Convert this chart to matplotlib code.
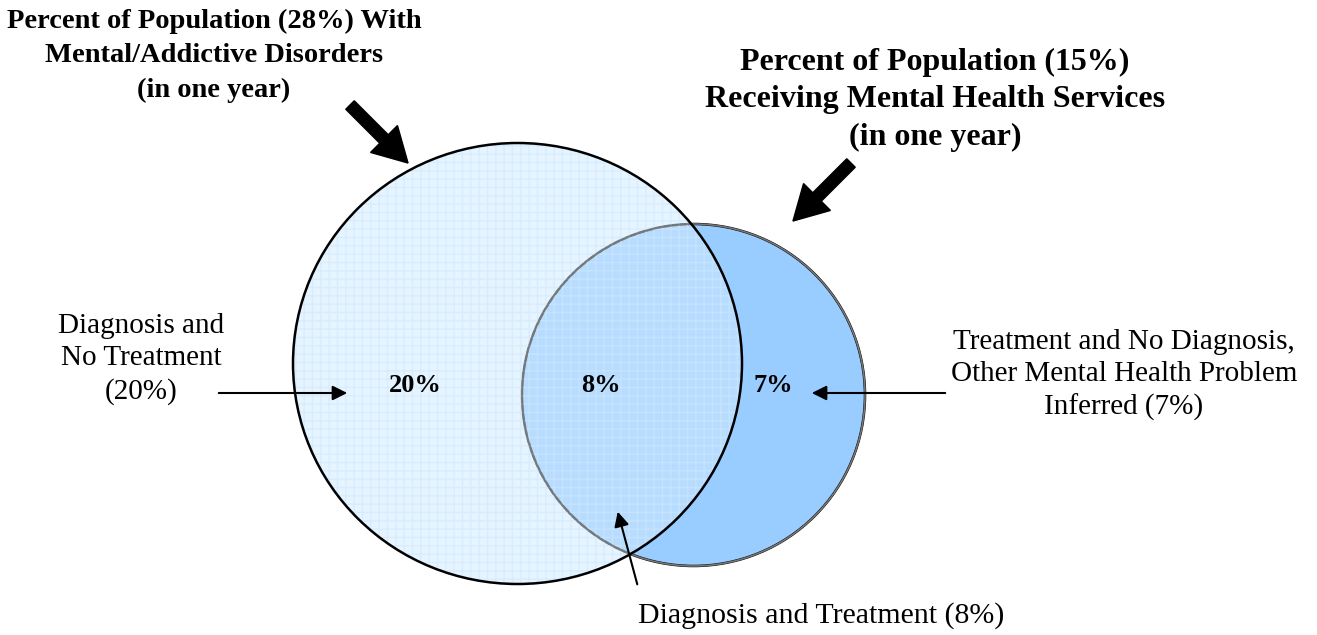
import matplotlib
matplotlib.use("Agg")
import matplotlib.pyplot as plt
from matplotlib.patches import Ellipse, FancyArrow

# ---- data ----
disorder_pct = 28
services_pct = 15
region_pct = [20, 8, 7]          # diagnosis only, both, treatment only
region_x = [415, 601, 773]
region_labels = ["Diagnosis and\nNo Treatment\n(20%)",
                 "Diagnosis and Treatment (8%)",
                 "Treatment and No Diagnosis,\nOther Mental Health Problem\nInferred (7%)"]

plt.rcParams['font.family'] = ['Liberation Serif', 'DejaVu Serif']

fig = plt.figure(figsize=(13.17, 6.35), dpi=100)
ax = fig.add_axes([0, 0, 1, 1])
ax.set_xlim(0, 1317)
ax.set_ylim(635, 0)
ax.axis('off')

# small circle (services) - drawn first
small = Ellipse((693.5, 395), 343, 342, facecolor='#99ccff', edgecolor='black', lw=1.8, zorder=1)
ax.add_patch(small)

# big circle (disorders) - translucent, with a faint grid texture
big_fill = Ellipse((517.5, 363.5), 449, 441, facecolor=(0.82, 0.92, 1.0), alpha=0.55,
                   edgecolor='none', zorder=2)
ax.add_patch(big_fill)
big_grid = Ellipse((517.5, 363.5), 449, 441, facecolor='none', edgecolor='#cfe8fb',
                   hatch='++', lw=0, zorder=3, alpha=0.6)
ax.add_patch(big_grid)
big_edge = Ellipse((517.5, 363.5), 449, 441, facecolor='none', edgecolor='black', lw=1.8, zorder=4)
ax.add_patch(big_edge)
# small circle outline seen through the big circle
small_edge = Ellipse((693.5, 395), 343, 342, facecolor='none', edgecolor='#777777', lw=1.2, zorder=3)
ax.add_patch(small_edge)

# percentages in the regions
for x, p in zip(region_x, region_pct):
    ax.text(x, 385, f"{p}%", ha='center', va='center', fontsize=19, fontweight='bold', zorder=6)

# titles
ax.text(214, 56, f"Percent of Population ({disorder_pct}%) With\nMental/Addictive Disorders\n(in one year)",
        ha='center', va='center', fontsize=20.5, fontweight='bold', linespacing=1.5)
ax.text(935, 100, f"Percent of Population ({services_pct}%)\nReceiving Mental Health Services\n(in one year)",
        ha='center', va='center', fontsize=23, fontweight='bold', linespacing=1.37)

# big block arrows
ax.add_patch(FancyArrow(350, 105, 58 - 24, 58 - 24, width=12, head_width=38, head_length=34,
                        color='black', zorder=5))
ax.add_patch(FancyArrow(851, 163, -34, 34, width=12, head_width=38, head_length=34,
                        color='black', zorder=5))

# side labels
ax.text(141, 359, region_labels[0], ha='center', va='center', fontsize=21, linespacing=1.32)
ax.text(1124, 375, region_labels[2], ha='center', va='center', fontsize=21, linespacing=1.32)
ax.text(638, 616, region_labels[1], ha='left', va='center', fontsize=21.5)

# thin arrows
arrow_kw = dict(arrowstyle='-|>', color='black', lw=1.5, mutation_scale=22)
ax.annotate('', xy=(350, 393), xytext=(216, 393), arrowprops=arrow_kw, zorder=6)
ax.annotate('', xy=(809, 393), xytext=(948, 393), arrowprops=arrow_kw, zorder=6)
ax.annotate('', xy=(617, 509), xytext=(638, 587), arrowprops=arrow_kw, zorder=6)

fig.savefig('out.png', dpi=100)
